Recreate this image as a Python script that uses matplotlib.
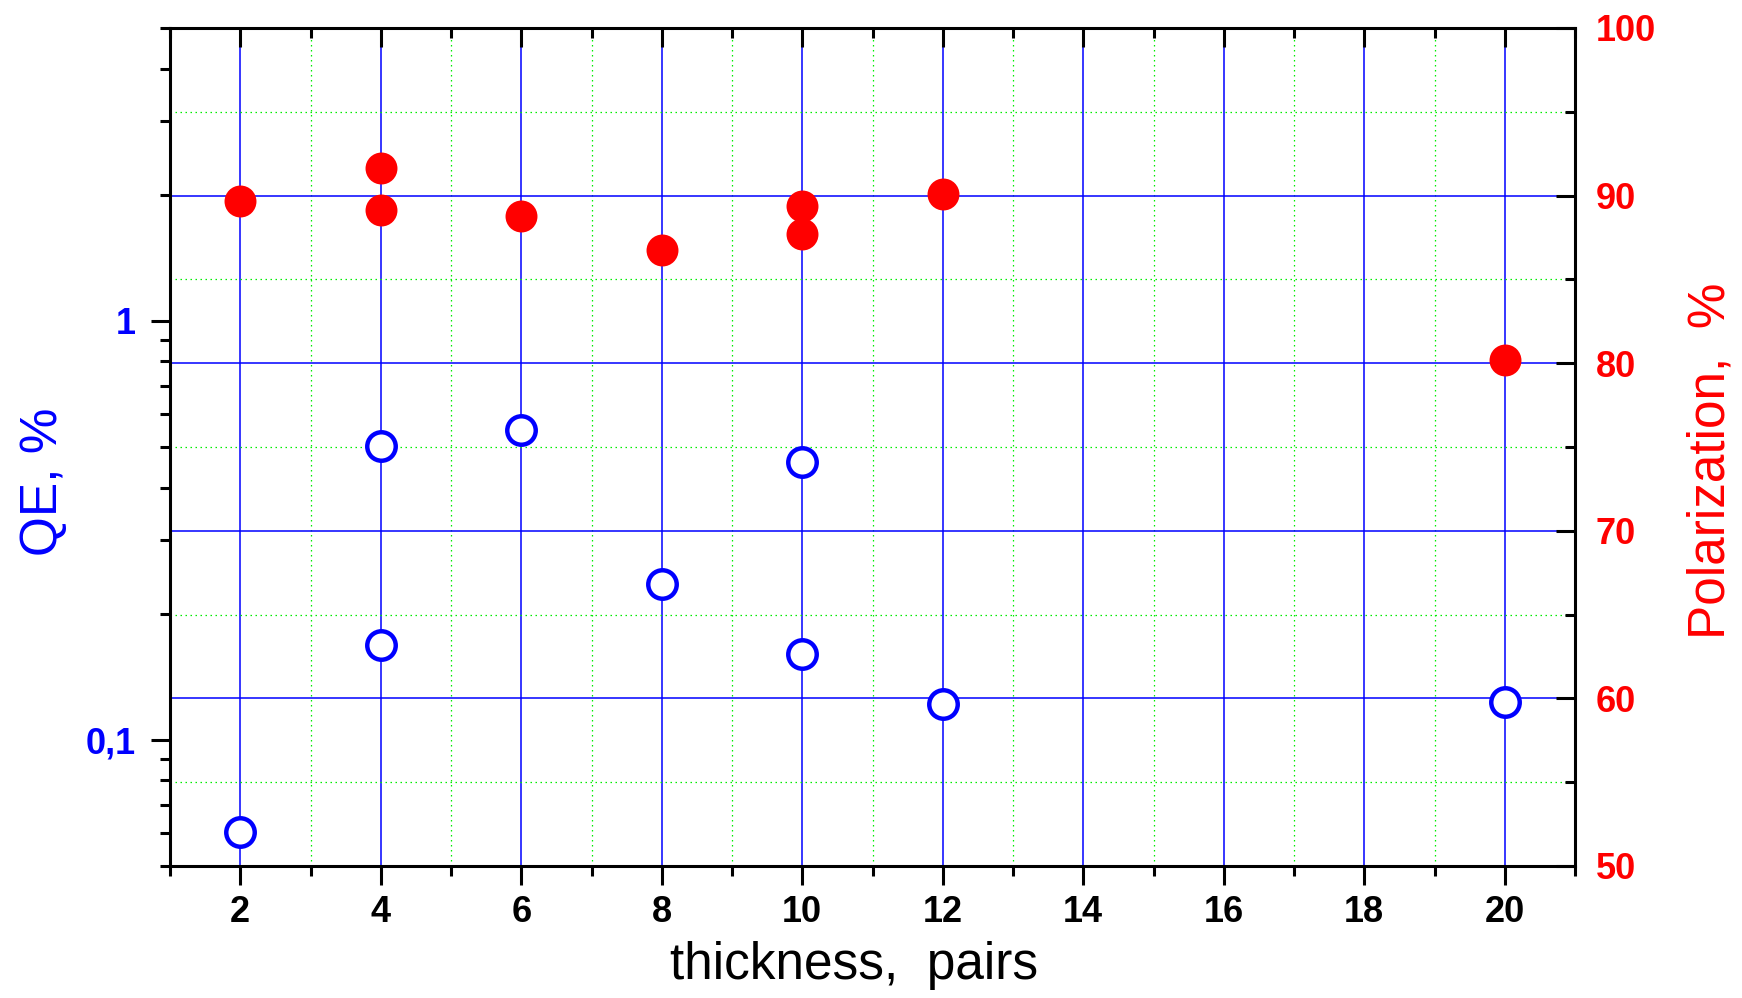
import matplotlib
matplotlib.use("Agg")
import matplotlib.pyplot as plt
from matplotlib.ticker import MultipleLocator, FixedLocator, FixedFormatter, LogLocator, NullFormatter

# ---- data ----
thickness_qe = [2, 4, 4, 6, 8, 10, 10, 12, 20]
qe = [0.0602, 0.502, 0.168, 0.550, 0.235, 0.461, 0.160, 0.1215, 0.1234]
thickness_pol = [2, 4, 4, 6, 8, 10, 10, 12, 20]
pol = [89.7, 91.65, 89.15, 88.8, 86.75, 89.4, 87.7, 90.1, 80.2]

x_ticks = [2, 4, 6, 8, 10, 12, 14, 16, 18, 20]
x_tick_labels = [str(v) for v in x_ticks]
qe_ticks = [0.1, 1]
qe_tick_labels = ["0,1", "1"]
pol_ticks = [50, 60, 70, 80, 90, 100]
pol_tick_labels = [str(v) for v in pol_ticks]

xlim = (1, 21)
qe_lim = (0.05, 5)
pol_lim = (50, 100)

plt.rcParams['font.family'] = ['Liberation Sans', 'DejaVu Sans']
TICK_FS = 26
LABEL_FS = 37

fig = plt.figure(figsize=(17.42, 9.98), dpi=100)
ax = fig.add_axes([170/1742, 1 - 866/998, (1575-170)/1742, (866-28)/998])
ax2 = ax.twinx()
ax.set_zorder(ax2.get_zorder() + 1)
ax.patch.set_visible(False)

BLUE = '#0000ff'
RED = '#ff0000'
GREEN = '#00ee00'
LW = 2.2

# ---- ax2: polarization (right), grids, top ticks ----
ax2.set_ylim(*pol_lim)
ax2.set_xlim(*xlim)
ax2.xaxis.set_visible(True)
ax2.xaxis.set_major_locator(FixedLocator(x_ticks))
ax2.xaxis.set_minor_locator(MultipleLocator(1))
ax2.yaxis.set_major_locator(FixedLocator(pol_ticks))
ax2.yaxis.set_major_formatter(FixedFormatter(pol_tick_labels))
ax2.yaxis.set_minor_locator(MultipleLocator(5))
ax2.grid(which='major', axis='both', color=BLUE, lw=1.1, ls='-')
ax2.grid(which='minor', axis='both', color=GREEN, lw=0.9, ls=(0, (1.2, 2.8)))
ax2.set_axisbelow(True)
ax2.tick_params(axis='x', which='both', bottom=False, top=True, labelbottom=False,
                labeltop=False, direction='in', width=LW)
ax2.tick_params(axis='x', which='major', length=14)
ax2.tick_params(axis='x', which='minor', length=7)
ax2.tick_params(axis='y', which='both', left=False, right=True, direction='in', width=LW,
                labelright=True, labelleft=False, labelcolor=RED, labelsize=TICK_FS, pad=15)
ax2.tick_params(axis='y', which='major', length=14)
ax2.tick_params(axis='y', which='minor', length=7)
for lbl in ax2.get_yticklabels():
    lbl.set_fontweight('bold')
for s in ax2.spines.values():
    s.set_visible(False)
ax2.plot(thickness_pol, pol, 'o', color=RED, ms=23, mew=0, zorder=5, clip_on=False)
ax2.set_ylabel('Polarization,  %', color=RED, fontsize=LABEL_FS, labelpad=22)
ax2.yaxis.label.set_y(0.483)

# ---- ax: QE (left, log) ----
ax.set_yscale('log')
ax.set_ylim(*qe_lim)
ax.set_xlim(*xlim)
ax.xaxis.set_major_locator(FixedLocator(x_ticks))
ax.xaxis.set_major_formatter(FixedFormatter(x_tick_labels))
ax.xaxis.set_minor_locator(MultipleLocator(1))
ax.yaxis.set_major_locator(FixedLocator(qe_ticks))
ax.yaxis.set_major_formatter(FixedFormatter(qe_tick_labels))
ax.yaxis.set_minor_locator(LogLocator(base=10, subs=[2, 3, 4, 5, 6, 7, 8, 9]))
ax.yaxis.set_minor_formatter(NullFormatter())
ax.tick_params(axis='x', which='both', bottom=True, top=False, direction='out', width=LW,
               labelsize=TICK_FS, pad=7)
ax.tick_params(axis='x', which='major', length=14)
ax.tick_params(axis='x', which='minor', length=7)
ax.tick_params(axis='y', which='both', left=True, right=False, direction='out', width=LW,
               labelcolor=BLUE, labelsize=TICK_FS, pad=11)
ax.tick_params(axis='y', which='major', length=14)
ax.tick_params(axis='y', which='minor', length=7)
for lbl in ax.get_xticklabels() + ax.get_yticklabels():
    lbl.set_fontweight('bold')
for s in ax.spines.values():
    s.set_linewidth(LW)
    s.set_color('black')
ax.plot(thickness_qe, qe, 'o', color=BLUE, mfc='white', mec=BLUE, ms=20.5, mew=3.2,
        zorder=5, clip_on=False)
ax.set_ylabel('QE, %', color=BLUE, fontsize=LABEL_FS, labelpad=12)
ax.yaxis.label.set_y(0.459)
ax.set_xlabel('thickness,  pairs', fontsize=LABEL_FS, labelpad=8)
ax.xaxis.label.set_x(0.487)

fig.savefig('out.png', dpi=100, facecolor='white')
